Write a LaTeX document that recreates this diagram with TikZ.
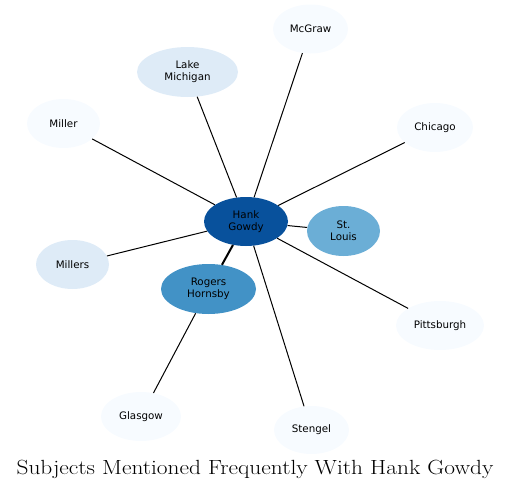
\documentclass[tikz,border=0pt]{standalone}
\usepackage{fontspec}
\setsansfont{DejaVu Sans}
\usetikzlibrary{shapes.geometric}
\definecolor{c9}{HTML}{08519C}
\definecolor{c7}{HTML}{4292C6}
\definecolor{c6}{HTML}{6BAED6}
\definecolor{c2}{HTML}{DEEBF7}
\definecolor{c1}{HTML}{F7FBFF}
\tikzset{
  ent/.style={ellipse, inner sep=0pt, align=center, text=black,
    font=\sffamily\fontsize{10.3}{11.7}\selectfont},
  edge/.style={draw=black, line width=1pt},
  thickedge/.style={draw=black, line width=2pt},
}
\begin{document}
\begin{tikzpicture}[x=1pt,y=-1pt]
\useasboundingbox (0,0) rectangle (512,490);
\node[ent, fill=c9, minimum width=84pt, minimum height=49pt] (hank) at (246,221.5) {Hank\\Gowdy};
\node[ent, fill=c6, minimum width=73pt, minimum height=50pt] (stl) at (343.5,231) {St.\\Louis};
\node[ent, fill=c7, minimum width=95pt, minimum height=50pt] (rh) at (208.5,289) {Rogers\\Hornsby};
\node[ent, fill=c1, minimum width=75pt, minimum height=49pt] (mcg) at (310.5,29) {McGraw};
\node[ent, fill=c2, minimum width=101pt, minimum height=50pt] (lm) at (187.5,72) {Lake\\Michigan};
\node[ent, fill=c1, minimum width=73pt, minimum height=49pt] (mil) at (63.5,123.5) {Miller};
\node[ent, fill=c1, minimum width=76pt, minimum height=49pt] (chi) at (435,127.5) {Chicago};
\node[ent, fill=c2, minimum width=73pt, minimum height=49pt] (mils) at (72.5,264.5) {Millers};
\node[ent, fill=c1, minimum width=88pt, minimum height=49pt] (pit) at (440,325.5) {Pittsburgh};
\node[ent, fill=c1, minimum width=80pt, minimum height=49pt] (gla) at (141,416.5) {Glasgow};
\node[ent, fill=c1, minimum width=75pt, minimum height=48pt] (ste) at (311.5,430) {Stengel};
\draw[edge] (hank) -- (stl);
\draw[thickedge] (hank) -- (rh);
\draw[edge] (hank) -- (mcg);
\draw[edge] (hank) -- (lm);
\draw[edge] (hank) -- (mil);
\draw[edge] (hank) -- (chi);
\draw[edge] (hank) -- (mils);
\draw[edge] (hank) -- (pit);
\draw[edge] (hank) -- (ste);
\draw[edge] (rh) -- (gla);
\node[anchor=base, inner sep=0pt, font=\fontsize{20.5}{24}\selectfont] (title) at (255,474) {\scalebox{1.14}[1]{Subjects Mentioned Frequently With Hank Gowdy}};
\end{tikzpicture}
\end{document}
